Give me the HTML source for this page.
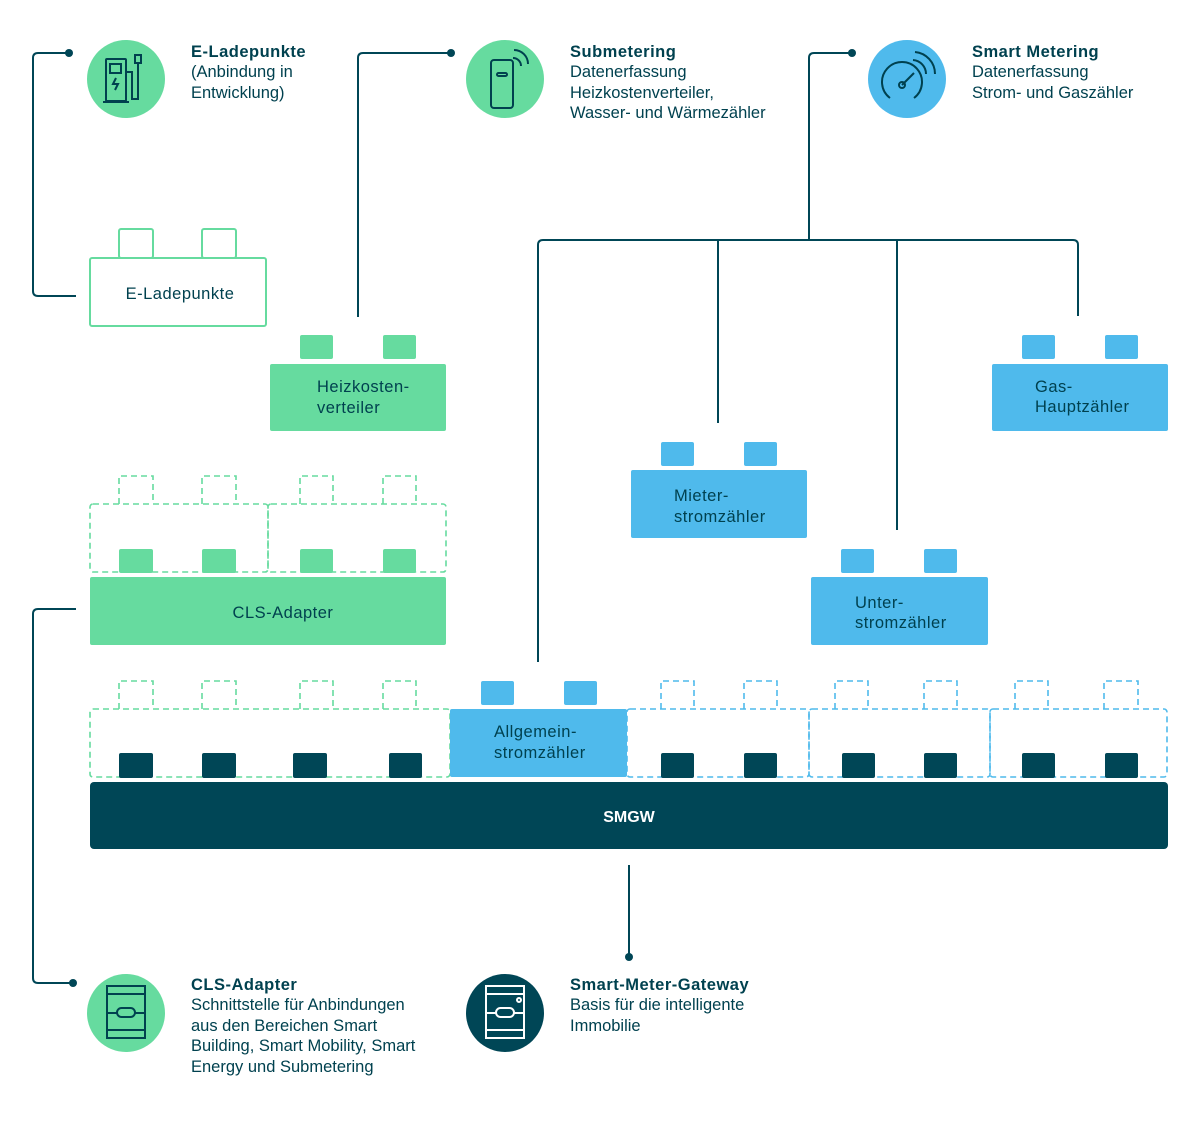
<!DOCTYPE html>
<html><head><meta charset="utf-8"><style>
html,body{margin:0;padding:0;background:#fff;}
svg{display:block;font-family:"Liberation Sans",sans-serif;}
.t{font-size:16.5px;fill:#00414f;}
.b{font-weight:bold;letter-spacing:0.5px;}
.lbl{font-size:16.5px;fill:#00414f;letter-spacing:0.5px;}
</style></head><body>
<svg width="1200" height="1121" viewBox="0 0 1200 1121" xmlns="http://www.w3.org/2000/svg">
<g fill="none" stroke="#004656" stroke-width="2">
<path d="M69 53 H38 Q33 53 33 58 V291 Q33 296 38 296 H76"/>
<path d="M451 53 H363 Q358 53 358 58 V317"/>
<path d="M852 53 H814 Q809 53 809 58 V240"/>
<path d="M538 662 V245 Q538 240 543 240 H1073 Q1078 240 1078 245 V316"/>
<path d="M718 240 V423"/>
<path d="M897 240 V530"/>
<path d="M76 609 H38 Q33 609 33 614 V978 Q33 983 38 983 H73"/>
<path d="M629 865 V957"/>
</g>
<g fill="#004656"><circle cx="69" cy="53" r="4"/><circle cx="451" cy="53" r="4"/><circle cx="852" cy="53" r="4"/><circle cx="73" cy="983" r="4"/><circle cx="629" cy="957" r="4"/></g>

<circle cx="126" cy="79" r="39" fill="#66db9f"/>
<g fill="none" stroke="#00414f" stroke-width="2">
<rect x="106" y="59" width="20" height="42" rx="1"/><rect x="110" y="64" width="11" height="9"/>
<path d="M103 102 H129"/><path d="M116 78 l-3 6 h5 l-3 6"/>
<path d="M127 72 H132 V99 H138 V72 V68"/><rect x="135" y="55" width="6" height="8"/><path d="M138 63 V70"/>
</g>
<circle cx="505" cy="79" r="39" fill="#66db9f"/>
<g fill="none" stroke="#00414f" stroke-width="2">
<rect x="491" y="60" width="22" height="48" rx="3"/><rect x="497" y="73" width="10" height="3" rx="1.5"/>
<path d="M514 50 a14 14 0 0 1 14 14"/><path d="M513 58 a8 8 0 0 1 8 8"/>
</g>
<circle cx="907" cy="79" r="39" fill="#4fbaec"/>
<g fill="none" stroke="#00414f" stroke-width="2">
<path d="M890 98 a20 20 0 1 1 24 0"/><path d="M902 85 L914 73"/><circle cx="902" cy="85" r="3"/>
<path d="M915 52 a22 22 0 0 1 20 22"/><path d="M913 60 a14 14 0 0 1 13 14"/>
</g>
<circle cx="126" cy="1013" r="39" fill="#66db9f"/>
<g fill="none" stroke="#00414f" stroke-width="2">
<rect x="107" y="986" width="38" height="52"/><path d="M107 994 H145 M107 1030 H145 M107 1013 H117 M135 1013 H145"/><rect x="117" y="1008" width="18" height="9" rx="4.5"/>
</g>
<circle cx="505" cy="1013" r="39" fill="#004656"/>
<g fill="none" stroke="#fff" stroke-width="2">
<rect x="486" y="986" width="38" height="52"/><path d="M486 994 H524 M486 1030 H524 M486 1013 H496 M514 1013 H524"/><rect x="496" y="1008" width="18" height="9" rx="4.5"/><circle cx="519" cy="1000" r="2"/>
</g>

<text class="t"><tspan x="191" y="57" class="b">E-Ladepunkte</tspan><tspan x="191" y="77">(Anbindung in</tspan><tspan x="191" y="98">Entwicklung)</tspan></text>
<text class="t"><tspan x="570" y="57" class="b">Submetering</tspan><tspan x="570" y="77">Datenerfassung</tspan><tspan x="570" y="98">Heizkostenverteiler,</tspan><tspan x="570" y="118">Wasser- und Wärmezähler</tspan></text>
<text class="t"><tspan x="972" y="57" class="b">Smart Metering</tspan><tspan x="972" y="77">Datenerfassung</tspan><tspan x="972" y="98">Strom- und Gaszähler</tspan></text>
<text class="t"><tspan x="191" y="990" class="b">CLS-Adapter</tspan><tspan x="191" y="1010">Schnittstelle für Anbindungen</tspan><tspan x="191" y="1031">aus den Bereichen Smart</tspan><tspan x="191" y="1051">Building, Smart Mobility, Smart</tspan><tspan x="191" y="1072">Energy und Submetering</tspan></text>
<text class="t"><tspan x="570" y="990" class="b">Smart-Meter-Gateway</tspan><tspan x="570" y="1010">Basis für die intelligente</tspan><tspan x="570" y="1031">Immobilie</tspan></text>

<g fill="#fff" stroke="#66db9f" stroke-width="2">
<rect x="119" y="229" width="34" height="29" rx="2"/><rect x="202" y="229" width="34" height="29" rx="2"/>
<rect x="90" y="258" width="176" height="68" rx="2"/>
</g>
<text class="lbl" x="180" y="299" text-anchor="middle">E-Ladepunkte</text>

<g fill="#66db9f"><rect x="300" y="335" width="33" height="24" rx="2"/><rect x="383" y="335" width="33" height="24" rx="2"/><rect x="270" y="364" width="176" height="67" rx="2"/></g>
<text class="lbl"><tspan x="317" y="392">Heizkosten-</tspan><tspan x="317" y="413">verteiler</tspan></text>

<g fill="#4fbaec"><rect x="1022" y="335" width="33" height="24" rx="2"/><rect x="1105" y="335" width="33" height="24" rx="2"/><rect x="992" y="364" width="176" height="67" rx="2"/></g>
<text class="lbl"><tspan x="1035" y="392">Gas-</tspan><tspan x="1035" y="412">Hauptzähler</tspan></text>

<g fill="#4fbaec"><rect x="661" y="442" width="33" height="24" rx="2"/><rect x="744" y="442" width="33" height="24" rx="2"/><rect x="631" y="470" width="176" height="68" rx="2"/></g>
<text class="lbl"><tspan x="674" y="501">Mieter-</tspan><tspan x="674" y="522">stromzähler</tspan></text>

<g fill="#4fbaec"><rect x="841" y="549" width="33" height="24" rx="2"/><rect x="924" y="549" width="33" height="24" rx="2"/><rect x="811" y="577" width="177" height="68" rx="2"/></g>
<text class="lbl"><tspan x="855" y="608">Unter-</tspan><tspan x="855" y="628">stromzähler</tspan></text>

<g fill="none" stroke="#66db9f" stroke-width="1.6" stroke-dasharray="6 4">
<path d="M119 504 V476 H153 V504 M202 504 V476 H236 V504 M300 504 V476 H333 V504 M383 504 V476 H416 V504"/>
<rect x="90" y="504" width="178" height="68" rx="3"/><rect x="268" y="504" width="178" height="68" rx="3"/>
</g>
<g fill="#66db9f"><rect x="119" y="549" width="34" height="24" rx="2"/><rect x="202" y="549" width="34" height="24" rx="2"/><rect x="300" y="549" width="33" height="24" rx="2"/><rect x="383" y="549" width="33" height="24" rx="2"/>
<rect x="90" y="577" width="356" height="68" rx="2"/></g>
<text class="lbl" x="283" y="618" text-anchor="middle">CLS-Adapter</text>

<g fill="none" stroke="#66db9f" stroke-width="1.6" stroke-dasharray="6 4">
<path d="M119 709 V681 H153 V709 M202 709 V681 H236 V709 M300 709 V681 H333 V709 M383 709 V681 H416 V709"/>
<rect x="90" y="709" width="360" height="68" rx="3"/>
</g>
<g fill="none" stroke="#4fbaec" stroke-width="1.6" stroke-dasharray="6 4">
<path d="M661 709 V681 H694 V709 M744 709 V681 H777 V709 M835 709 V681 H868 V709 M924 709 V681 H957 V709 M1015 709 V681 H1048 V709 M1104 709 V681 H1138 V709"/>
<rect x="627" y="709" width="182" height="68" rx="3"/><rect x="809" y="709" width="181" height="68" rx="3"/><rect x="990" y="709" width="177" height="68" rx="3"/>
</g>
<g fill="#4fbaec"><rect x="481" y="681" width="33" height="24" rx="2"/><rect x="564" y="681" width="33" height="24" rx="2"/><rect x="450" y="709" width="177" height="68" rx="2"/></g>
<text class="lbl"><tspan x="494" y="737">Allgemein-</tspan><tspan x="494" y="758">stromzähler</tspan></text>
<g fill="#004656">
<rect x="119" y="753" width="34" height="25" rx="2"/><rect x="202" y="753" width="34" height="25" rx="2"/><rect x="293" y="753" width="34" height="25" rx="2"/><rect x="389" y="753" width="33" height="25" rx="2"/>
<rect x="661" y="753" width="33" height="25" rx="2"/><rect x="744" y="753" width="33" height="25" rx="2"/><rect x="842" y="753" width="33" height="25" rx="2"/><rect x="924" y="753" width="33" height="25" rx="2"/><rect x="1022" y="753" width="33" height="25" rx="2"/><rect x="1105" y="753" width="33" height="25" rx="2"/>
<rect x="90" y="782" width="1078" height="67" rx="4"/>
</g>
<text x="629" y="822" text-anchor="middle" fill="#fff" font-size="16" font-weight="bold">SMGW</text>
</svg>
</body></html>
